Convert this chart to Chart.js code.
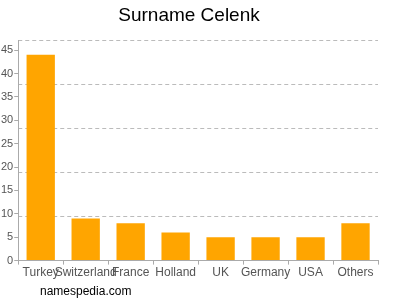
<!DOCTYPE html>
<html>
<head>
<meta charset="utf-8">
<script src="https://cdn.jsdelivr.net/npm/chart.js@4/dist/chart.umd.min.js"></script>
<style>
  body { margin: 0; background: #fff; }
  #wrap { position: relative; width: 400px; height: 300px; }
  #site { position: absolute; left: 40px; top: 284px; font: 12px "Liberation Sans", Arial, sans-serif; color: #000; }
</style>
</head>
<body>
<div id="wrap">
  <canvas id="myChart" width="400" height="300"></canvas>
  <div id="site">namespedia.com</div>
</div>
<script>
// dati del grafico
const countries = ["Turkey", "Switzerland", "France", "Holland", "UK", "Germany", "USA", "Others"];
const shares = [44, 9, 8, 6, 5, 5, 5, 8];
const yTicks = [0, 5, 10, 15, 20, 25, 30, 35, 40, 45];
const yMax = 47;

const ctx = document.getElementById("myChart");

new Chart(ctx, {
  type: "bar",
  data: {
    labels: countries,
    datasets: [
      {
        data: shares,
        backgroundColor: "#ffa500",
        borderWidth: 0,
        categoryPercentage: 1,
        barPercentage: 0.63,
      },
    ],
  },
  options: {
    responsive: false,
    animation: false,
    layout: { padding: { left: 0, right: 22, top: 0, bottom: 19 } },
    plugins: {
      legend: { display: false },
      tooltip: { enabled: false },
      title: {
        display: true,
        text: "Surname Celenk",
        color: "#000",
        font: { family: "Liberation Sans", size: 19, weight: "normal" },
        padding: { top: 4, bottom: 14 },
      },
    },
    scales: {
      x: {
        grid: { drawOnChartArea: false, tickLength: 4, color: "#aaa" },
        border: { color: "#aaa" },
        ticks: {
          color: "#555",
          font: { family: "Liberation Sans", size: 12 },
          maxRotation: 0,
          autoSkip: false,
          padding: 1,
        },
      },
      y: {
        min: 0,
        max: yMax,
        afterBuildTicks: (axis) => {
          axis.ticks = yTicks.map((v) => ({ value: v }));
        },
        grid: { drawOnChartArea: false, tickLength: 4, color: "#aaa" },
        border: { color: "#aaa" },
        ticks: {
          color: "#555",
          font: { family: "Liberation Sans", size: 11 },
          padding: 1,
        },
      },
      // asse nascosto solo per le linee tratteggiate
      y2: {
        position: "right",
        min: 0,
        max: yMax,
        ticks: { display: false, stepSize: yMax / 5 },
        border: { display: false, dash: [4, 3] },
        grid: {
          drawTicks: false,
          color: (c) => (c.tick && c.tick.value > 0 ? "#bbb" : "rgba(0,0,0,0)"),
        },
      },
    },
  },
});
</script>
</body>
</html>
